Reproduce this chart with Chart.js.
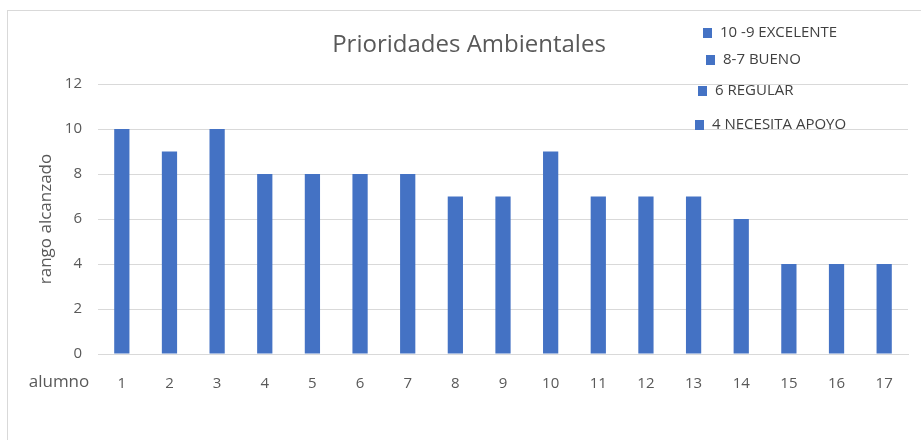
<!DOCTYPE html>
<html>
<head>
<meta charset="utf-8">
<script src="https://cdn.jsdelivr.net/npm/chart.js@4"></script>
<style>
  body { margin: 0; background: #fff; }
  #wrap { position: relative; width: 921px; height: 440px; overflow: hidden; }
  #frame { position: absolute; left: 7px; top: 10px; width: 940px; height: 460px; border: 1px solid #d9d9d9; box-sizing: border-box; }
  canvas { position: absolute; left: 0; top: 0; }
</style>
</head>
<body>
<div id="wrap">
  <div id="frame"></div>
  <canvas id="chart" width="921" height="440"></canvas>
</div>
<script>
// Data
const alumnos = ['1','2','3','4','5','6','7','8','9','10','11','12','13','14','15','16','17'];
const rango = [10, 9, 10, 8, 8, 8, 8, 7, 7, 9, 7, 7, 7, 6, 4, 4, 4];
const yTicks = [0, 2, 4, 6, 8, 10, 12];
const chartTitle = 'Prioridades Ambientales';
const notas = ['10 -9 EXCELENTE', '8-7 BUENO', '6 REGULAR', '4 NECESITA APOYO'];

const FONT = '"Open Sans", "Liberation Sans", sans-serif';
const BLUE = '#4472c4';

// title, side notes and "alumno" label drawn on the canvas
const extras = {
  id: 'extras',
  afterDraw(chart) {
    const ctx = chart.ctx;
    ctx.save();
    ctx.fillStyle = '#595959';
    ctx.font = '24px ' + FONT;
    ctx.textAlign = 'center';
    ctx.textBaseline = 'middle';
    ctx.fillText(chartTitle, 469, 45);

    // note boxes (placed by hand like in the sheet)
    const pos = [[703, 33], [706, 60], [698, 91], [695, 125]];
    ctx.font = '15px ' + FONT;
    ctx.textAlign = 'left';
    notas.forEach((t, i) => {
      const [x, y] = pos[i];
      ctx.fillStyle = BLUE;
      ctx.fillRect(x, y - 5, 9, 10);
      ctx.fillStyle = '#404040';
      ctx.fillText(t, x + 17, y);
    });

    ctx.fillStyle = '#595959';
    ctx.font = '17px ' + FONT;
    ctx.textAlign = 'center';
    ctx.fillText('alumno', 59, 382);
    ctx.restore();
  }
};

new Chart(document.getElementById('chart'), {
  type: 'bar',
  data: {
    labels: alumnos,
    datasets: [{
      label: 'rango',
      data: rango,
      backgroundColor: BLUE,
      barPercentage: 0.32,
      categoryPercentage: 1
    }]
  },
  options: {
    responsive: false,
    animation: false,
    layout: { padding: { left: 36, top: 84, right: 13, bottom: 0 } },
    plugins: { legend: { display: false }, tooltip: { enabled: false } },
    scales: {
      x: {
        grid: { display: false },
        border: { display: true, color: '#d9d9d9' },
        ticks: { color: '#595959', font: { family: FONT, size: 15 }, padding: 13 },
        afterFit(s) { s.height = 86; }
      },
      y: {
        min: 0, max: 12,
        afterBuildTicks(s) { s.ticks = yTicks.map(v => ({ value: v })); },
        grid: { color: '#d9d9d9', drawTicks: false },
        border: { display: false },
        ticks: { color: '#595959', font: { family: FONT, size: 15 }, padding: 16 },
        title: { display: true, text: 'rango alcanzado', color: '#595959', font: { family: FONT, size: 17 }, padding: 0 },
        afterFit(s) { s.width = 62; }
      }
    }
  },
  plugins: [extras]
});
</script>
</body>
</html>
